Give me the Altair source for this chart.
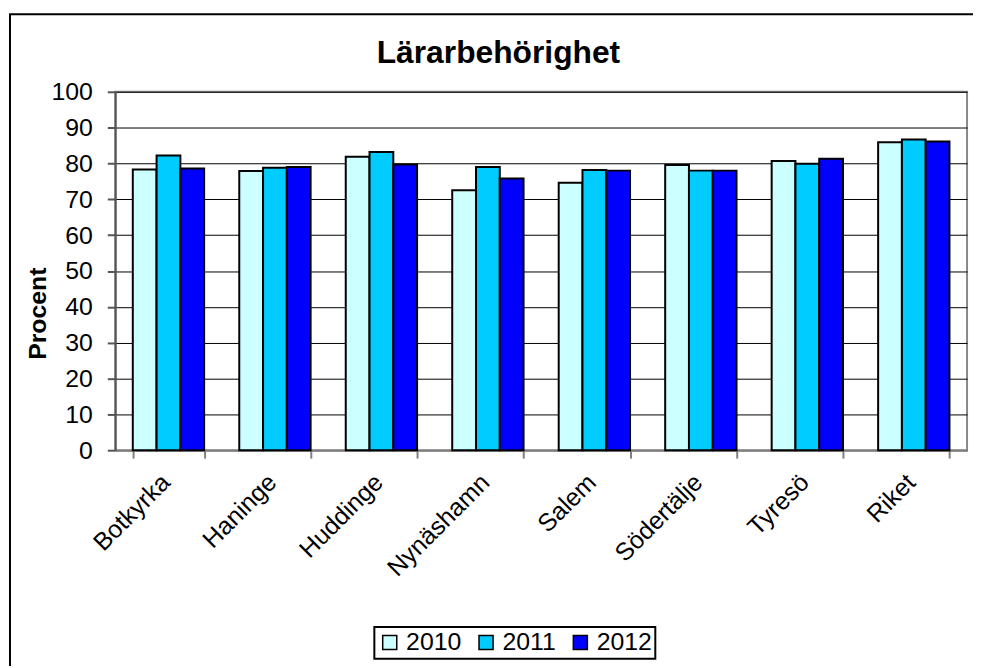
import altair as alt
import pandas as pd

categories = ["Botkyrka", "Haninge", "Huddinge", "Nynäshamn", "Salem", "Södertälje", "Tyresö", "Riket"]
years = ["2010", "2011", "2012"]
v2010 = [78.3, 77.9, 81.9, 72.5, 74.6, 79.6, 80.7, 85.9]
v2011 = [82.2, 78.8, 83.2, 79.0, 78.2, 78.0, 79.9, 86.7]
v2012 = [78.6, 79.0, 79.7, 75.8, 78.0, 78.0, 81.3, 86.1]
colors = ["#CCFFFF", "#00CCFF", "#0000FF"]
title_text = "Lärarbehörighet"

rows = []
for i, c in enumerate(categories):
    for y, vals in zip(years, [v2010, v2011, v2012]):
        rows.append({"Kommun": c, "År": y, "Procent": vals[i]})
df = pd.DataFrame(rows)

FONT = "Liberation Sans"

bars = alt.Chart(df).mark_bar(stroke="black", strokeWidth=2).encode(
    x=alt.X("Kommun:N", sort=categories,
            scale=alt.Scale(paddingInner=0.33, paddingOuter=0.165),
            axis=alt.Axis(title=None, labelAngle=-45, labelFontSize=25, labelFont=FONT,
                          labelColor="black", labelAlign="right", labelBaseline="middle",
                          labelOffset=-3,
                          tickBand="extent", tickColor="#808080",
                          tickSize=8, tickWidth=2, domainColor="#808080", domainWidth=2,
                          labelPadding=20, grid=False)),
    xOffset=alt.XOffset("År:N", sort=years, scale=alt.Scale(paddingInner=0, paddingOuter=0)),
    y=alt.Y("Procent:Q", scale=alt.Scale(domain=[0, 100], nice=False),
            axis=alt.Axis(title="Procent", values=list(range(0, 101, 10)),
                          labelFontSize=25, labelFont=FONT, labelColor="black",
                          labelPadding=15, tickSize=8, tickColor="#555555", tickWidth=2,
                          domainColor="#555555", domainWidth=2,
                          gridColor="black", gridWidth=1,
                          titleFont=FONT, titleFontSize=25, titleFontWeight="bold",
                          titleColor="black", titleX=-70, titleY=223,
                          titleBaseline="alphabetic", titleAngle=270)),
    color=alt.Color("År:N", sort=years, scale=alt.Scale(domain=years, range=colors),
                    legend=alt.Legend(title=None, orient="none", direction="horizontal",
                                      legendX=261, legendY=539,
                                      symbolType="square", symbolSize=200,
                                      symbolStrokeColor="black", symbolStrokeWidth=1.5,
                                      labelFontSize=25, labelFont=FONT, labelColor="black",
                                      labelOffset=4, columnPadding=12,
                                      strokeColor="black", padding=3)),
)

border = alt.Chart(pd.DataFrame({"a": [0]})).mark_rect(
    filled=False, stroke="black", strokeWidth=2
).encode(
    x=alt.value(-106), x2=alt.value(1000), y=alt.value(-78), y2=alt.value(800)
)

title = alt.Chart(pd.DataFrame({"t": [title_text]})).mark_text(
    font=FONT, fontSize=32, fontWeight="bold", color="black",
    align="center", baseline="alphabetic"
).encode(
    text="t:N", x=alt.value(386), y=alt.value(-29)
)

chart = alt.layer(border, bars, title).properties(
    width=858, height=361,
    autosize=alt.AutoSizeParams(type="none"),
    padding={"left": 108, "top": 82, "right": 6, "bottom": 215},
).configure_view(stroke="#888888", strokeWidth=2).configure_legend(strokeWidth=2)

chart.save("out.html", embed_options={"renderer": "svg", "actions": False})
